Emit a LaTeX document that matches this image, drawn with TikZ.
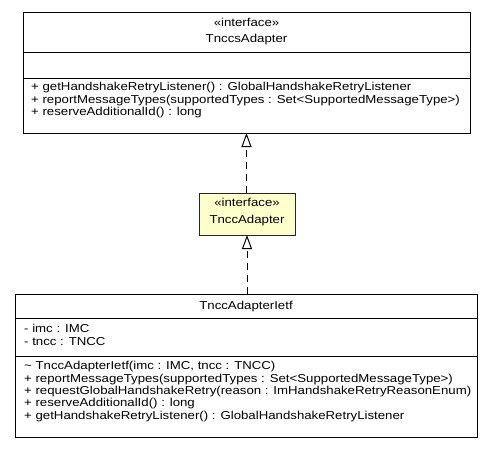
\documentclass[tikz,border=0pt]{standalone}
\usepackage{fontspec}
\setmainfont[FakeStretch=1.15]{Liberation Sans}
\usetikzlibrary{arrows.meta}
\definecolor{ifill}{HTML}{FFFFCC}
\begin{document}
\begin{tikzpicture}[x=1pt,y=-1pt,
  box/.style={draw=black,line width=1pt,fill=white,inner sep=0pt,outer sep=0pt},
  txt/.style={inner sep=0pt,font=\fontsize{11.5}{12.3}\selectfont,text height=8pt,text depth=2.5pt},
  member/.style={txt,anchor=west},
  realize/.style={draw=black,line width=1pt,dash pattern=on 7pt off 5pt,
    -{Triangle[open,width=10pt,length=14pt,line width=1pt]}}]
\useasboundingbox (0,0) rectangle (493,459);
\fill[white] (0,0) rectangle (493,459);
% top interface
\node[box,minimum width=447pt,minimum height=121pt,anchor=north west] (top) at (23,12) {};
\draw[line width=1pt] (23,52) coordinate (ts1) -- (470,52) coordinate (ts1e);
\draw[line width=1pt] (23,78) coordinate (ts2) -- (470,78) coordinate (ts2e);
\node[txt] (topst) at (246.5,24) {«interface»};
\node[txt] (topname) at (246.5,40) {TnccsAdapter};
\node[member] (tm1) at (31,88) {+ getHandshakeRetryListener() : GlobalHandshakeRetryListener};
\node[member] (tm2) at (31,101) {+ reportMessageTypes(supportedTypes : Set<SupportedMessageType>)};
\node[member] (tm3) at (31,113) {+ reserveAdditionalId() : long};
% middle interface
\node[box,fill=ifill,draw=black!85,minimum width=96pt,minimum height=42pt,anchor=north west] (mid) at (199,193) {};
\node[txt] (midst) at (247,204) {«interface»};
\node[txt] (midname) at (247,221) {TnccAdapter};
% bottom class
\node[box,minimum width=462pt,minimum height=143pt,anchor=north west] (bot) at (15,294) {};
\draw[line width=1pt] (15,318) coordinate (bs1) -- (477,318) coordinate (bs1e);
\draw[line width=1pt] (15,356) coordinate (bs2) -- (477,356) coordinate (bs2e);
\node[txt] (botname) at (246,307) {TnccAdapterIetf};
\node[member] (ba1) at (24,330) {- imc : IMC};
\node[member] (ba2) at (24,343) {- tncc : TNCC};
\node[member] (bm1) at (24,367) {\textasciitilde\ TnccAdapterIetf(imc : IMC, tncc : TNCC)};
\node[member] (bm2) at (24,380) {+ reportMessageTypes(supportedTypes : Set<SupportedMessageType>)};
\node[member] (bm3) at (24,392) {+ requestGlobalHandshakeRetry(reason : ImHandshakeRetryReasonEnum)};
\node[member] (bm4) at (24,404) {+ reserveAdditionalId() : long};
\node[member] (bm5) at (24,417) {+ getHandshakeRetryListener() : GlobalHandshakeRetryListener};
% connectors
\draw[realize] (mid.north -| top.south) -- (top.south);
\draw[realize] (bot.north -| mid.south) -- (mid.south);
\end{tikzpicture}
\end{document}
